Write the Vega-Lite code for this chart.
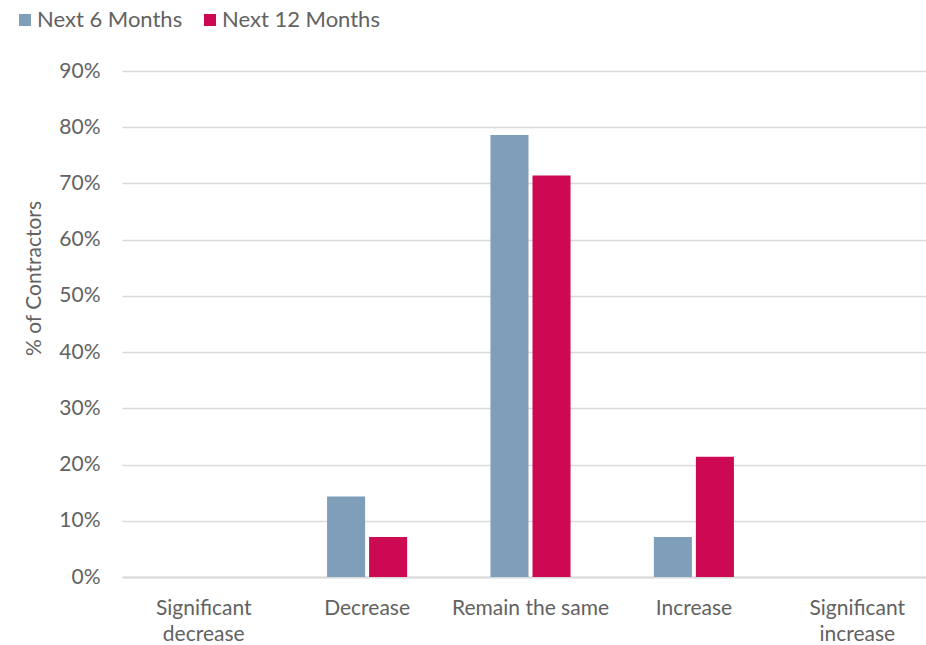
{
  "$schema": "https://vega.github.io/schema/vega-lite/v6.json",
  "autosize": {"type": "none"},
  "width": 804,
  "height": 506,
  "padding": {"left": 122, "top": 71, "right": 0, "bottom": 68},
  "background": "white",
  "config": {
    "font": "Lato",
    "view": {"stroke": null},
    "axis": {"labelColor": "#626262", "titleColor": "#626262", "labelFontSize": 21, "titleFontSize": 21, "titleFontWeight": "normal"}
  },
  "data": {
    "values": [
      {"outlook": "Significant decrease", "period": "Next 6 Months", "share": 0},
      {"outlook": "Significant decrease", "period": "Next 12 Months", "share": 0},
      {"outlook": "Decrease", "period": "Next 6 Months", "share": 0.143},
      {"outlook": "Decrease", "period": "Next 12 Months", "share": 0.071},
      {"outlook": "Remain the same", "period": "Next 6 Months", "share": 0.786},
      {"outlook": "Remain the same", "period": "Next 12 Months", "share": 0.714},
      {"outlook": "Increase", "period": "Next 6 Months", "share": 0.071},
      {"outlook": "Increase", "period": "Next 12 Months", "share": 0.214},
      {"outlook": "Significant increase", "period": "Next 6 Months", "share": 0},
      {"outlook": "Significant increase", "period": "Next 12 Months", "share": 0}
    ]
  },
  "mark": {"type": "bar"},
  "encoding": {
    "x": {
      "field": "outlook",
      "type": "nominal",
      "sort": ["Significant decrease", "Decrease", "Remain the same", "Increase", "Significant increase"],
      "scale": {"range": [0, 817], "paddingInner": 0.51, "paddingOuter": 0.255},
      "axis": {
        "title": null,
        "labelAngle": 0,
        "labelPadding": 31,
        "labelLineHeight": 26,
        "labelBaseline": "middle",
        "ticks": false,
        "domainColor": "#d9d9d9",
        "domainWidth": 2,
        "labelExpr": "indexof(datum.label, 'Significant') == 0 ? split(datum.label, ' ') : datum.label"
      }
    },
    "xOffset": {
      "field": "period",
      "type": "nominal",
      "sort": ["Next 6 Months", "Next 12 Months"],
      "scale": {"paddingInner": 0.095, "paddingOuter": 0}
    },
    "y": {
      "field": "share",
      "type": "quantitative",
      "scale": {"domain": [0, 0.9]},
      "axis": {
        "title": "% of Contractors",
        "titleAngle": -90,
        "titleAlign": "center",
        "titleBaseline": "middle",
        "titleX": -88,
        "titleY": 207,
        "format": ".0%",
        "values": [0, 0.1, 0.2, 0.3, 0.4, 0.5, 0.6, 0.7, 0.8, 0.9],
        "domain": false,
        "ticks": false,
        "labelPadding": 22,
        "gridColor": "#d9d9d9",
        "gridWidth": 1.5
      }
    },
    "color": {
      "field": "period",
      "type": "nominal",
      "sort": ["Next 6 Months", "Next 12 Months"],
      "scale": {"range": ["#7f9eba", "#cc0952"]},
      "legend": {
        "title": null,
        "orient": "none",
        "direction": "horizontal",
        "legendX": -108,
        "legendY": -62,
        "symbolType": "square",
        "symbolSize": 144,
        "symbolStrokeWidth": 0,
        "labelFontSize": 22,
        "labelColor": "#626262",
        "labelOffset": 1,
        "columnPadding": 16
      }
    }
  }
}
